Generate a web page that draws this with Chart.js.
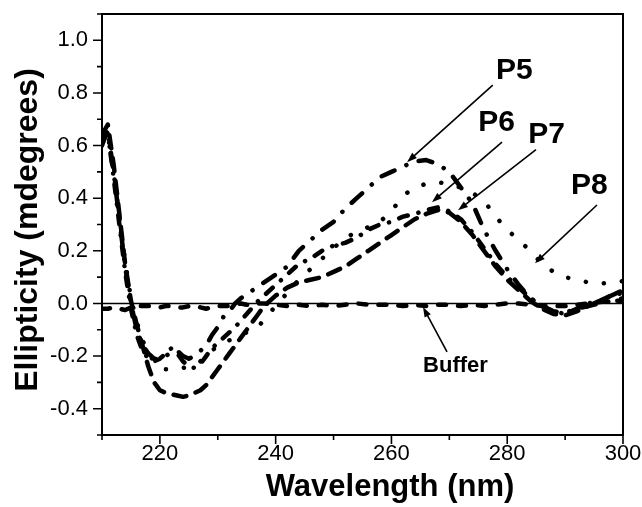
<!DOCTYPE html>
<html>
<head>
<meta charset="utf-8">
<script src="https://cdn.jsdelivr.net/npm/chart.js@4.4.1/dist/chart.umd.min.js"></script>
<style>
  html, body { margin: 0; padding: 0; background: #fff; }
  #wrap { width: 642px; height: 507px; }
</style>
</head>
<body>
<div id="wrap"><canvas id="cdChart" width="642" height="507"></canvas></div>
<script>
// CD spectra of the peptides against buffer
const wavelength = [210, 211, 212, 213, 214, 215, 216, 217, 218, 219, 220, 221, 222, 223, 224, 225, 226, 227, 228, 229,
    230, 231, 232, 233, 234, 235, 236, 237, 238, 240, 242, 244, 246, 248, 250, 252, 254, 256, 258, 260,
    262, 264, 266, 268, 270, 272, 274, 276, 278, 280, 282, 284, 286, 288, 290, 292, 294, 296, 298, 300];

const p5 = [0.6, 0.66, 0.5, 0.32, 0.14, 0.0, -0.1, -0.16, -0.19, -0.21, -0.21, -0.2, -0.185, -0.18, -0.2, -0.21, -0.2, -0.18, -0.16, -0.12,
    -0.09, -0.05, -0.03, 0.0, 0.02, 0.035, 0.05, 0.065, 0.08, 0.11, 0.14, 0.2, 0.24, 0.28, 0.31, 0.36, 0.4, 0.44, 0.48, 0.5,
    0.52, 0.54, 0.545, 0.53, 0.5, 0.44, 0.38, 0.28, 0.2, 0.13, 0.07, 0.02, -0.01, -0.03, -0.035, -0.02, -0.01, 0.0, 0.01, 0.02];

const p6 = [0.62, 0.65, 0.48, 0.3, 0.12, -0.02, -0.12, -0.18, -0.21, -0.22, -0.21, -0.19, -0.17, -0.19, -0.22, -0.24, -0.245, -0.23, -0.2, -0.17,
    -0.15, -0.13, -0.11, -0.09, -0.065, -0.04, -0.015, 0.01, 0.03, 0.07, 0.11, 0.15, 0.17, 0.2, 0.22, 0.23, 0.25, 0.28, 0.3, 0.31,
    0.33, 0.34, 0.355, 0.365, 0.35, 0.32, 0.27, 0.21, 0.15, 0.1, 0.06, 0.02, -0.01, -0.03, -0.04, -0.02, 0.0, 0.01, 0.03, 0.04];

const p7 = [0.64, 0.68, 0.53, 0.34, 0.15, 0.01, -0.08, -0.16, -0.24, -0.3, -0.33, -0.34, -0.345, -0.35, -0.355, -0.35, -0.34, -0.33, -0.31, -0.28,
    -0.25, -0.22, -0.19, -0.16, -0.13, -0.1, -0.07, -0.04, -0.01, 0.03, 0.06, 0.08, 0.09, 0.1, 0.12, 0.14, 0.17, 0.2, 0.23, 0.26,
    0.29, 0.32, 0.34, 0.355, 0.345, 0.31, 0.26, 0.2, 0.14, 0.09, 0.05, 0.01, -0.02, -0.04, -0.045, -0.03, -0.01, 0.01, 0.03, 0.05];

const p8 = [0.63, 0.64, 0.5, 0.33, 0.16, 0.02, -0.07, -0.14, -0.19, -0.22, -0.24, -0.25, -0.25, -0.25, -0.245, -0.24, -0.235, -0.22, -0.2, -0.18,
    -0.16, -0.15, -0.14, -0.13, -0.12, -0.11, -0.1, -0.09, -0.06, -0.01, 0.04, 0.09, 0.13, 0.17, 0.21, 0.25, 0.27, 0.29, 0.31, 0.35,
    0.41, 0.44, 0.455, 0.46, 0.455, 0.44, 0.42, 0.39, 0.33, 0.28, 0.24, 0.2, 0.15, 0.12, 0.1, 0.09, 0.08, 0.075, 0.08, 0.085];

const buffer = [-0.02, -0.02, -0.015, -0.02, -0.025, -0.015, -0.01, -0.01, -0.01, -0.01, -0.015, -0.01, -0.01, -0.015, -0.015, -0.01, -0.01, -0.015, -0.02, -0.015,
    -0.01, -0.01, -0.01, -0.005, 0.0, -0.005, -0.005, 0.0, 0.0, -0.005, -0.01, -0.005, -0.01, -0.005, -0.01, -0.005, 0.0, -0.005, -0.005, -0.005,
    -0.01, -0.005, -0.01, -0.005, -0.005, -0.01, -0.005, -0.01, -0.005, 0.0, 0.0, -0.005, -0.01, -0.01, -0.01, -0.005, 0.0, 0.005, 0.01, 0.01];

// axis ranges / ticks
const xMin = 210, xMax = 300, xStep = 10, xLabelEvery = 20;
const yMin = -0.5, yMax = 1.1, yStep = 0.1;

// curve labels with their arrows (data coordinates)
const labelText = ['P5', 'P6', 'P7', 'P8', 'Buffer'];
const labelAt = [[281.25, 0.883], [278.15, 0.686], [286.8, 0.64], [294.2, 0.446], [271.06, -0.238]];
const arrowFrom = [[277.5, 0.83], [279.1, 0.613], [284.97, 0.585], [295.5, 0.374], [269.6, -0.184]];
const arrowTo = [[262.7, 0.537], [267.0, 0.385], [271.5, 0.354], [284.8, 0.153], [265.45, -0.014]];

const FONT = '"Liberation Sans", Arial, Helvetica, sans-serif';

function series(label, values, dash) {
    return {
        label: label,
        data: values.map((v, i) => ({ x: wavelength[i], y: v })),
        borderColor: '#000',
        borderWidth: 4.5,
        borderDash: dash,
        borderCapStyle: 'round',
        borderJoinStyle: 'round',
        pointRadius: 0,
        tension: 0,
        fill: false
    };
}

const framePlugin = {
    id: 'frame',
    beforeDatasetsDraw(chart) {
        const { ctx, chartArea: a, scales: { y } } = chart;
        const y0 = y.getPixelForValue(0);
        ctx.save();
        ctx.strokeStyle = '#000';
        ctx.lineWidth = 1.5;
        ctx.beginPath();
        ctx.moveTo(a.left, y0);
        ctx.lineTo(a.right, y0);
        ctx.stroke();
        ctx.restore();
    },
    afterDatasetsDraw(chart) {
        const { ctx, chartArea: a, scales: { x, y } } = chart;
        ctx.save();
        ctx.strokeStyle = '#000';
        ctx.fillStyle = '#000';
        ctx.lineWidth = 2;
        ctx.strokeRect(a.left, a.top, a.right - a.left, a.bottom - a.top);

        // tick marks, major and minor
        ctx.lineWidth = 1.6;
        ctx.beginPath();
        for (let v = xMin; v <= xMax; v += xStep) {
            const px = x.getPixelForValue(v);
            const len = v % xLabelEvery === 0 ? 9 : 5;
            ctx.moveTo(px, a.bottom);
            ctx.lineTo(px, a.bottom + len);
        }
        for (let k = Math.round(yMin / yStep); k <= Math.round(yMax / yStep); k++) {
            const py = y.getPixelForValue(k * yStep);
            const len = k % 2 === 0 ? 9 : 5;
            ctx.moveTo(a.left, py);
            ctx.lineTo(a.left - len, py);
        }
        ctx.stroke();

        // arrows
        ctx.lineWidth = 1.6;
        arrowFrom.forEach((f, i) => {
            const x1 = x.getPixelForValue(f[0]), y1 = y.getPixelForValue(f[1]);
            const x2 = x.getPixelForValue(arrowTo[i][0]), y2 = y.getPixelForValue(arrowTo[i][1]);
            const ang = Math.atan2(y2 - y1, x2 - x1);
            ctx.beginPath();
            ctx.moveTo(x1, y1);
            ctx.lineTo(x2 - 6 * Math.cos(ang), y2 - 6 * Math.sin(ang));
            ctx.stroke();
            ctx.beginPath();
            ctx.moveTo(x2, y2);
            ctx.lineTo(x2 - 10 * Math.cos(ang) + 3.5 * Math.sin(ang), y2 - 10 * Math.sin(ang) - 3.5 * Math.cos(ang));
            ctx.lineTo(x2 - 10 * Math.cos(ang) - 3.5 * Math.sin(ang), y2 - 10 * Math.sin(ang) + 3.5 * Math.cos(ang));
            ctx.closePath();
            ctx.fill();
        });

        // curve labels
        ctx.textAlign = 'center';
        ctx.textBaseline = 'middle';
        labelText.forEach((t, i) => {
            ctx.font = (t === 'Buffer' ? 'bold 22px ' : 'bold 30px ') + FONT;
            ctx.fillText(t, x.getPixelForValue(labelAt[i][0]), y.getPixelForValue(labelAt[i][1]));
        });
        ctx.restore();
    },
    afterDraw(chart) {
        const { ctx } = chart;
        ctx.save();
        ctx.fillStyle = '#000';
        ctx.textAlign = 'center';
        ctx.textBaseline = 'middle';
        ctx.font = 'bold 31px ' + FONT;
        ctx.fillText('Wavelength (nm)', 390, 487);
        ctx.translate(28, 230);
        ctx.rotate(-Math.PI / 2);
        ctx.font = 'bold 32px ' + FONT;
        ctx.fillText('Ellipticity (mdegrees)', 0, 0);
        ctx.restore();
    }
};

new Chart(document.getElementById('cdChart'), {
    type: 'line',
    data: {
        datasets: [
            series('P5', p5, [14, 13, 0.1, 13]),
            series('P6', p6, [9, 11, 0.1, 11]),
            series('P7', p7, [13, 10]),
            series('P8', p8, [0.1, 18]),
            series('Buffer', buffer, [8, 12])
        ]
    },
    options: {
        responsive: false,
        animation: false,
        devicePixelRatio: 1,
        layout: { padding: { top: 14, right: 19, left: 0, bottom: 0 } },
        plugins: { legend: { display: false }, tooltip: { enabled: false } },
        scales: {
            x: {
                type: 'linear',
                min: xMin,
                max: xMax,
                afterFit(s) { s.height = 72; s.paddingLeft = 0; s.paddingRight = 0; },
                grid: { drawOnChartArea: false, drawTicks: false },
                border: { display: false },
                ticks: {
                    stepSize: xStep,
                    autoSkip: false,
                    maxRotation: 0,
                    padding: 6,
                    color: '#000',
                    font: { family: FONT, size: 22 },
                    callback: v => (Math.round(v) % xLabelEvery === 0 ? String(Math.round(v)) : '')
                }
            },
            y: {
                min: yMin,
                max: yMax,
                afterFit(s) { s.width = 102; s.paddingTop = 0; s.paddingBottom = 0; },
                grid: { drawOnChartArea: false, drawTicks: false },
                border: { display: false },
                ticks: {
                    stepSize: yStep,
                    autoSkip: false,
                    padding: 14,
                    color: '#000',
                    font: { family: FONT, size: 22 },
                    callback: v => {
                        const k = Math.round(v * 10);
                        return k % 2 === 0 ? (k / 10).toFixed(1) : '';
                    }
                }
            }
        }
    },
    plugins: [framePlugin]
});
</script>
</body>
</html>
